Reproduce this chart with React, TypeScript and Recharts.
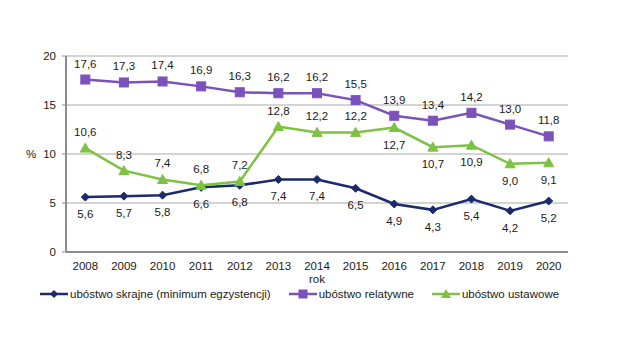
import React from 'react';
import { LineChart, Line, XAxis, YAxis, CartesianGrid, LabelList } from 'recharts';

const years = [2008, 2009, 2010, 2011, 2012, 2013, 2014, 2015, 2016, 2017, 2018, 2019, 2020];
const skrajne = [5.6, 5.7, 5.8, 6.6, 6.8, 7.4, 7.4, 6.5, 4.9, 4.3, 5.4, 4.2, 5.2];
const relatywne = [17.6, 17.3, 17.4, 16.9, 16.3, 16.2, 16.2, 15.5, 13.9, 13.4, 14.2, 13.0, 11.8];
const ustawowe = [10.6, 8.3, 7.4, 6.8, 7.2, 12.8, 12.2, 12.2, 12.7, 10.7, 10.9, 9.0, 9.1];
const ustawoweLabelSide = ['above', 'above', 'above', 'above', 'above', 'above', 'above', 'above', 'below', 'below', 'below', 'below', 'below'];
const yTicks = [0, 5, 10, 15, 20];
const boundaryTicks = [2007.5, 2008.5, 2009.5, 2010.5, 2011.5, 2012.5, 2013.5, 2014.5, 2015.5, 2016.5, 2017.5, 2018.5, 2019.5, 2020.5];

const seriesNames = {
  skrajne: 'ubóstwo skrajne (minimum egzystencji)',
  relatywne: 'ubóstwo relatywne',
  ustawowe: 'ubóstwo ustawowe',
};

const NAVY = '#1B2A6B';
const PURPLE = '#7B52BC';
const GREEN = '#7DC242';
const FONT = '"Liberation Sans", Arial, sans-serif';

const data = years.map((y, i) => ({
  year: y,
  skrajne: skrajne[i],
  relatywne: relatywne[i],
  ustawowe: ustawowe[i],
}));

const fmt = (v: number) => v.toFixed(1).replace('.', ',');

const makeLabel = (side: (i: number) => string) => (props: any) => {
  const { x, y, value, index } = props;
  const s = side(index);
  return (
    <text
      x={x}
      y={s === 'above' ? y - 12 : y + 21}
      textAnchor="middle"
      fontSize={11.5}
      fontFamily={FONT}
      fill="#1a1a1a"
    >
      {fmt(value)}
    </text>
  );
};

const Diamond = (props: any) => {
  const { cx, cy } = props;
  const r = 4;
  return <path d={`M${cx},${cy - r}L${cx + r},${cy}L${cx},${cy + r}L${cx - r},${cy}Z`} fill={NAVY} stroke={NAVY} />;
};
const Square = (props: any) => {
  const { cx, cy } = props;
  const r = 4.5;
  return <rect x={cx - r} y={cy - r} width={2 * r} height={2 * r} fill={PURPLE} stroke={PURPLE} />;
};
const Triangle = (props: any) => {
  const { cx, cy } = props;
  const r = 5;
  return <path d={`M${cx},${cy - r}L${cx + r},${cy + r * 0.8}L${cx - r},${cy + r * 0.8}Z`} fill={GREEN} stroke={GREEN} />;
};

const LegendItem = ({ color, shape, text }: { color: string; shape: string; text: string }) => (
  <div style={{ display: 'flex', alignItems: 'center', marginRight: 18 }}>
    <svg width={28} height={10} style={{ marginRight: 2 }}>
      <line x1={0} y1={5} x2={28} y2={5} stroke={color} strokeWidth={2.5} />
      {shape === 'diamond' && <path d="M14,1L18,5L14,9L10,5Z" fill={color} />}
      {shape === 'square' && <rect x={9.5} y={0.5} width={9} height={9} fill={color} />}
      {shape === 'triangle' && <path d="M14,0L19,9L9,9Z" fill={color} />}
    </svg>
    <span>{text}</span>
  </div>
);

export default function App() {
  return (
    <div style={{ position: 'absolute', left: 0, top: 0, width: 626, height: 355, background: '#fff' }}>
      <LineChart width={626} height={355} data={data} margin={{ top: 56, right: 58, bottom: 73, left: 0 }}>
        <CartesianGrid horizontal={true} vertical={false} stroke="#A8A8A8" />
        <XAxis
          dataKey="year"
          type="number"
          domain={[2007.5, 2020.5]}
          ticks={years}
          interval={0}
          tickLine={false}
          axisLine={{ stroke: '#8C8C8C', strokeWidth: 2 }}
          tick={{ fontSize: 11.5, fontFamily: FONT, fill: '#1a1a1a' }}
          tickMargin={4}
          height={30}
          label={{ value: 'rok', position: 'insideBottom', offset: 0, dy: 1, fontSize: 11.5, fontFamily: FONT, fill: '#1a1a1a' }}
        />
        <XAxis
          xAxisId="bounds"
          dataKey="year"
          type="number"
          domain={[2007.5, 2020.5]}
          ticks={boundaryTicks}
          interval={0}
          tick={false}
          tickSize={4}
          tickLine={{ stroke: '#8C8C8C' }}
          axisLine={false}
          height={0}
        />
        <YAxis
          domain={[0, 20]}
          ticks={yTicks}
          width={66}
          tickSize={4}
          tickMargin={6}
          tickLine={{ stroke: '#8C8C8C' }}
          axisLine={{ stroke: '#8C8C8C', strokeWidth: 2 }}
          tick={{ fontSize: 11.5, fontFamily: FONT, fill: '#1a1a1a' }}
          label={{ value: '%', position: 'insideLeft', offset: 26, fontSize: 11.5, fontFamily: FONT, fill: '#1a1a1a' }}
        />
        <Line dataKey="skrajne" name={seriesNames.skrajne} stroke={NAVY} strokeWidth={2.5} dot={<Diamond />} activeDot={false} isAnimationActive={false}>
          <LabelList dataKey="skrajne" content={makeLabel(() => 'below')} />
        </Line>
        <Line dataKey="relatywne" name={seriesNames.relatywne} stroke={PURPLE} strokeWidth={2.5} dot={<Square />} activeDot={false} isAnimationActive={false}>
          <LabelList dataKey="relatywne" content={makeLabel(() => 'above')} />
        </Line>
        <Line dataKey="ustawowe" name={seriesNames.ustawowe} stroke={GREEN} strokeWidth={2.5} dot={<Triangle />} activeDot={false} isAnimationActive={false}>
          <LabelList dataKey="ustawowe" content={makeLabel((i) => ustawoweLabelSide[i])} />
        </Line>
      </LineChart>
      <div
        style={{
          position: 'absolute',
          left: 40,
          top: 288,
          display: 'flex',
          fontFamily: FONT,
          fontSize: 11.5,
          color: '#1a1a1a',
          whiteSpace: 'nowrap',
        }}
      >
        <LegendItem color={NAVY} shape="diamond" text={seriesNames.skrajne} />
        <LegendItem color={PURPLE} shape="square" text={seriesNames.relatywne} />
        <LegendItem color={GREEN} shape="triangle" text={seriesNames.ustawowe} />
      </div>
    </div>
  );
}
